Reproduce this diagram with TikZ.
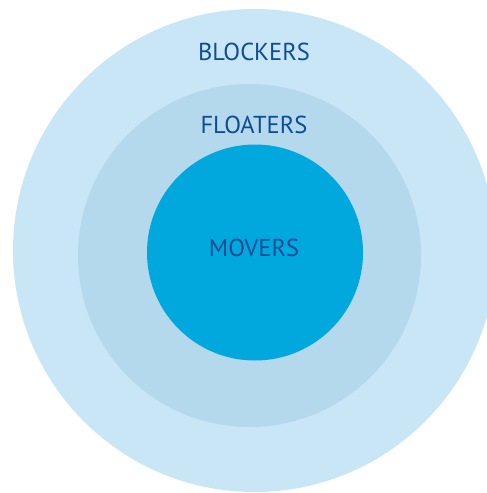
\documentclass[tikz,border=0pt]{standalone}
\usepackage{fontspec}
\setmainfont{PT Sans}
\definecolor{outerc}{HTML}{C8E6F5}
\definecolor{midc}{HTML}{B4D8EC}
\definecolor{innerc}{HTML}{00A8DE}
\definecolor{txtc}{HTML}{0E4C96}
\begin{document}
\begin{tikzpicture}[x=1pt,y=-1pt,
  ring/.style={circle,inner sep=0pt,draw=none},
  lbl/.style={text=txtc,font=\fontsize{24.5}{24.5}\selectfont,inner sep=0pt,anchor=base}]
\useasboundingbox (0,0) rectangle (487,493);
\clip (0,0) rectangle (487,493);
\node[ring,fill=outerc,minimum size=483pt] (outer) at (254.5,250.5) {};
\node[ring,fill=midc,minimum size=343pt] (mid) at (249.5,255.5) {};
\node[ring,fill=innerc,minimum size=216pt] (inner) at (255,252.5) {};
\node[lbl] (blockers) at (254,60) {BLOCKERS};
\node[lbl] (floaters) at (254,133) {FLOATERS};
\node[lbl] (movers) at (254,256) {MOVERS};
\end{tikzpicture}
\end{document}
